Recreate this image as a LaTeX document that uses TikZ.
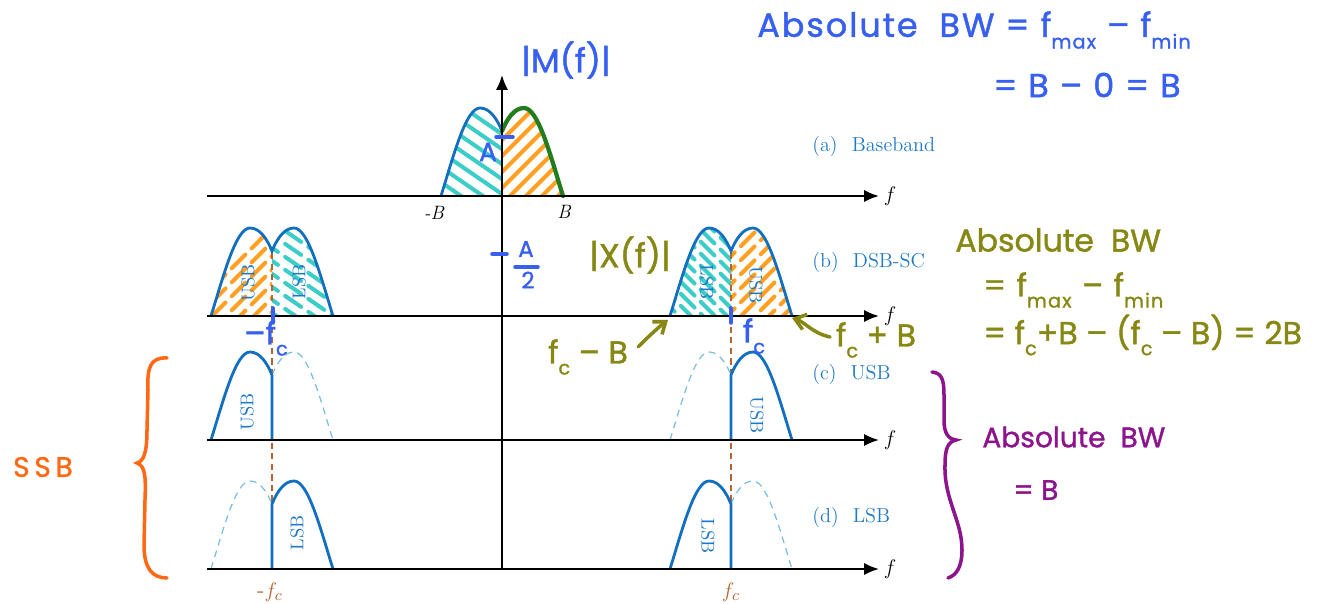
\documentclass[tikz,border=0pt]{standalone}
\usepackage{fontspec}
\newfontfamily\hand[FakeBold=1.3]{Poppins}
\newfontfamily\handw[FakeBold=1.3,LetterSpace=6]{Poppins}
\usetikzlibrary{arrows.meta}
\definecolor{specblue}{RGB}{18,110,190}
\definecolor{lblblue}{RGB}{30,120,200}
\definecolor{ghostblue}{RGB}{120,190,225}
\definecolor{fcbrown}{RGB}{180,100,50}
\definecolor{hblue}{RGB}{55,95,240}
\definecolor{holive}{RGB}{135,135,20}
\definecolor{hpurple}{RGB}{140,20,140}
\definecolor{horange}{RGB}{255,105,20}
\definecolor{hcyan}{RGB}{60,205,200}
\definecolor{hatchor}{RGB}{255,160,35}
\definecolor{hgreen}{RGB}{35,125,30}
\def\Llobe{(-61,0) .. controls (-48,-42) and (-36,-88) .. (-22,-88) .. controls (-12,-88) and (-5,-77) .. (0,-65)}
\def\Rlobe{(0,-65) .. controls (5,-77) and (12,-88) .. (22,-88) .. controls (36,-88) and (48,-42) .. (61,0)}
\def\Rtail{.. controls (5,-77) and (12,-88) .. (22,-88) .. controls (36,-88) and (48,-42) .. (61,0)}
\newcommand\hsb[1]{\raisebox{-0.35em}{\fontsize{11}{11}\selectfont #1}}
\tikzset{
  axisline/.style={line width=1.2pt, -{Latex[length=8.5pt,width=7pt]}},
  spec/.style={line width=1.6pt, specblue},
  ghost/.style={line width=0.7pt, ghostblue, dash pattern=on 4pt off 3pt},
  fcline/.style={line width=0.9pt, fcbrown, dash pattern=on 3.5pt off 2.5pt},
  hatchC/.style={line width=2.3pt, hcyan, line cap=round},
  hatchO/.style={line width=2.3pt, hatchor, line cap=round},
  broken/.style={dash pattern=on 11pt off 5pt},
  lbl/.style={text=lblblue, font=\fontsize{11.5}{13}\selectfont, anchor=west, inner sep=0pt},
  sb/.style={text=lblblue, font=\fontsize{10.5}{12}\selectfont, inner sep=0pt},
  flbl/.style={font=\fontsize{13}{14}\selectfont, inner sep=0pt},
  hw/.style={font=\hand\fontsize{18}{20}\selectfont, inner sep=0pt},
  hww/.style={font=\handw\fontsize{19}{20}\selectfont, inner sep=0pt},
  hstroke/.style={line width=2pt, line cap=round},
  barb/.style={-{Straight Barb[length=6pt,width=9pt]}},
}
\begin{document}
\begin{tikzpicture}[x=0.02cm,y=-0.02cm]
\useasboundingbox (0,0) rectangle (1325,604);

% ---------- hatching ----------
\begin{scope}[shift={(502,196)}]
  \begin{scope}\clip \Llobe -- (0,0) -- cycle;
    \foreach \t in {-140,-125,...,0} \draw[hatchC] (-70,\t) -- (10,\t+55);
  \end{scope}
  \begin{scope}\clip \Rlobe -- (0,0) -- cycle;
    \foreach \t in {-78,-62,...,71} \draw[hatchO] (-10,\t) -- (70,\t-80);
  \end{scope}
\end{scope}
\begin{scope}[shift={(272,316)}]
  \begin{scope}\clip \Llobe -- (0,0) -- cycle;
    \foreach \t in {-78,-64,...,71} \draw[hatchO,broken] (-80,\t+70) -- (0,\t-10);
  \end{scope}
  \begin{scope}\clip \Rlobe -- (0,0) -- cycle;
    \foreach \t in {-140,-127,...,0} \draw[hatchC,broken] (-10,\t) -- (70,\t+55);
  \end{scope}
\end{scope}
\begin{scope}[shift={(731,316)}]
  \begin{scope}\clip \Llobe -- (0,0) -- cycle;
    \foreach \t in {-150,-138,...,0} \draw[hatchC,broken] (-70,\t) -- (10,\t+80);
  \end{scope}
  \begin{scope}\clip \Rlobe -- (0,0) -- cycle;
    \foreach \t in {-78,-64,...,71} \draw[hatchO,broken] (-10,\t) -- (70,\t-80);
  \end{scope}
\end{scope}

% ---------- fc guide lines ----------
\coordinate (gl1) at (272,253); \coordinate (gl2) at (272,569);
\coordinate (gr1) at (731,253); \coordinate (gr2) at (731,569);
\draw[fcline] (gl1) -- (gl2);
\draw[fcline] (gr1) -- (gr2);

% ---------- spectra ----------
% (a)
\begin{scope}[shift={(502,196)}]
  \draw[spec] \Llobe \Rtail;
  \draw[line width=2.4pt, hgreen, line cap=round] \Rlobe;
\end{scope}
% (b)
\begin{scope}[shift={(272,316)}] \draw[spec] \Llobe \Rtail; \end{scope}
\begin{scope}[shift={(731,316)}] \draw[spec] \Llobe \Rtail; \end{scope}
% (c) USB
\begin{scope}[shift={(272,440)}]
  \draw[ghost] \Rlobe; \draw[spec] \Llobe -- (0,0);
\end{scope}
\begin{scope}[shift={(731,440)}]
  \draw[ghost] \Llobe; \draw[spec] (0,0) -- \Rlobe;
\end{scope}
% (d) LSB
\begin{scope}[shift={(272,569)}]
  \draw[ghost] \Llobe; \draw[spec] (0,0) -- \Rlobe;
\end{scope}
\begin{scope}[shift={(731,569)}]
  \draw[ghost] \Rlobe; \draw[spec] \Llobe -- (0,0);
\end{scope}

% ---------- axes ----------
\coordinate (va0) at (502,570); \coordinate (va1) at (502,75);
\draw[axisline] (va0) -- (va1);
\foreach \n/\y in {a/196,b/316,c/440,d/569}{
  \coordinate (\n0) at (207,\y); \coordinate (\n1) at (879,\y);
  \draw[axisline] (\n0) -- (\n1);
  \node[flbl] (f\n) at (890,\y) {$f$};
}

% ---------- axis labels ----------
\node[font=\fontsize{11}{12}\selectfont\itshape, inner sep=0pt] (mB) at (434,213) {-B};
\node[font=\fontsize{11}{12}\selectfont\itshape, inner sep=0pt] (pB) at (564,212) {B};
\node[flbl, text=fcbrown] (mfc) at (270,592) {-$f_c$};
\node[flbl, text=fcbrown] (pfc) at (731,592) {$f_c$};

% ---------- right labels ----------
\node[lbl] (la) at (812,146) {(a)\hspace{0.7em}Baseband};
\node[lbl] (lb) at (812,262) {(b)\hspace{0.7em}DSB-SC};
\node[lbl] (lc) at (812,374) {(c)\hspace{0.7em}USB};
\node[lbl] (ld) at (812,517) {(d)\hspace{0.7em}LSB};

% ---------- band labels ----------
\node[sb, rotate=90] (b1) at (248,283) {USB};
\node[sb, rotate=90] (b2) at (299,282) {LSB};
\node[sb, rotate=-90] (b3) at (707,282) {LSB};
\node[sb, rotate=-90] (b4) at (756,285) {USB};
\node[sb, rotate=90] (c1) at (247,412) {USB};
\node[sb, rotate=-90] (c2) at (757,415) {USB};
\node[sb, rotate=90] (d1) at (297,533) {LSB};
\node[sb, rotate=-90] (d2) at (708,536) {LSB};

% ---------- blue handwriting ----------
\node[hw, text=hblue, font=\hand\fontsize{19}{20}\selectfont] (Mf) at (566,60) {|M(f)|};
\coordinate (tA0) at (496,137); \coordinate (tA1) at (513,137);
\draw[hstroke, hblue] (tA0) -- (tA1);
\node[hw, text=hblue, font=\hand\fontsize{15}{16}\selectfont] (A1) at (488,152) {A};
\coordinate (tB0) at (492,254); \coordinate (tB1) at (507,254);
\draw[hstroke, hblue] (tB0) -- (tB1);
\node[hw, text=hblue, font=\hand\fontsize{13}{14}\selectfont] (A2) at (526,249) {A};
\coordinate (fr0) at (515,267); \coordinate (fr1) at (538,267);
\draw[hstroke, hblue] (fr0) -- (fr1);
\node[hw, text=hblue, font=\hand\fontsize{13}{14}\selectfont] (two) at (528,280) {2};
\coordinate (k1) at (273,308); \coordinate (k2) at (273,323);
\draw[hstroke, hblue] (k1) -- (k2);
\coordinate (k3) at (731,308); \coordinate (k4) at (731,323);
\draw[hstroke, hblue] (k3) -- (k4);
\node[hw, text=hblue] (mfcb) at (266,338) {–f\hsb{c}};
\node[hw, text=hblue] (pfcb) at (754,336) {f\hsb{c}};
\node[hww, text=hblue, anchor=west] (bw1) at (757,30) {Absolute\ \ BW = f\hsb{max} – f\hsb{min}};
\node[hww, text=hblue, anchor=west] (bw2) at (993,85) {= B – 0 = B};

% ---------- olive handwriting ----------
\node[hw, text=holive, font=\hand\fontsize{19}{20}\selectfont] (Xf) at (630,255) {|X(f)|};
\node[hw, text=holive] (fcmB) at (588,357) {f\hsb{c} – B};
\coordinate (ar1s) at (638,347); \coordinate (ar1e) at (668,320);
\draw[hstroke, holive, barb] (ar1s) .. controls (650,335) and (660,326) .. (ar1e);
\node[hw, text=holive] (fcpB) at (876,340) {f\hsb{c} + B};
\coordinate (ar2s) at (830,337); \coordinate (ar2e) at (792,318);
\draw[hstroke, holive, barb] (ar2s) .. controls (812,333) and (805,322) .. (ar2e);
\node[hw, text=holive, anchor=west] (ob1) at (955,240) {Absolute\ \ BW};
\node[hww, text=holive, font=\handw\fontsize{18}{20}\selectfont, anchor=west] (ob2) at (983,290) {= f\hsb{max} – f\hsb{min}};
\node[hw, text=holive, anchor=west] (ob3) at (983,335) {= f\hsb{c}+B – (f\hsb{c} – B) = 2B};

% ---------- purple ----------
\draw[hstroke, hpurple] (932,372) .. controls (942,373) and (944,380) .. (944,395) -- (944,420) .. controls (944,433) and (948,439) .. (956,440) .. controls (948,442) and (945,448) .. (945,465) .. controls (944,500) and (962,520) .. (962,550) .. controls (962,566) and (957,575) .. (948,578);
\node[hw, text=hpurple, font=\hand\fontsize{16}{18}\selectfont, anchor=west] (pb1) at (982,437) {Absolute\ \ BW};
\node[hw, text=hpurple, font=\hand\fontsize{16}{18}\selectfont, anchor=west] (pb2) at (1013,490) {= B};

% ---------- orange ----------
\node[hw, text=horange, font=\hand\fontsize{16}{18}\selectfont] (ssb) at (43,467) {S\,S\,B};
\draw[hstroke, horange] (167,358) .. controls (150,357) and (147,368) .. (148,390) -- (147,430) .. controls (147,452) and (144,461) .. (137,463) .. controls (145,466) and (146,475) .. (145,500) -- (144,545) .. controls (144,568) and (152,578) .. (167,578);
\end{tikzpicture}
\end{document}
